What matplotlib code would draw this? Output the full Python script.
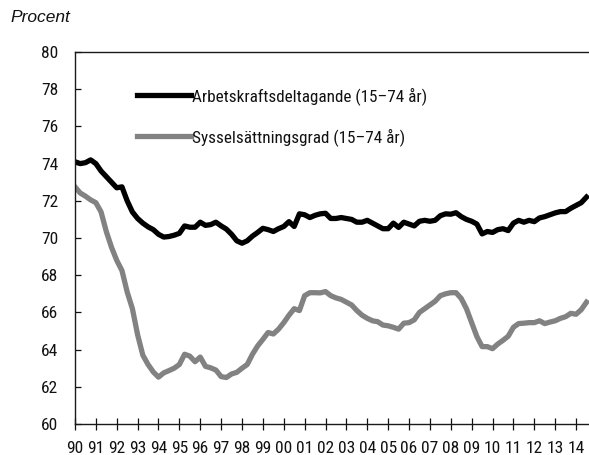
import matplotlib
matplotlib.use("Agg")
import numpy as np
from matplotlib import pyplot as plt

# quarterly values, 1990 Q1 .. 2014 Q3
start_year = 1990
arbetskraft = [
	74.1, 74.0, 74.05, 74.2,     # 1990
	74.0, 73.6, 73.3, 73.0,      # 1991
	72.7, 72.75, 72.0, 71.4,     # 1992
	71.05, 70.8, 70.6, 70.45,    # 1993
	70.2, 70.05, 70.08, 70.15,   # 1994
	70.25, 70.65, 70.58, 70.58,  # 1995
	70.85, 70.68, 70.72, 70.85,  # 1996
	70.65, 70.48, 70.2, 69.85,   # 1997
	69.72, 69.85, 70.1, 70.3,    # 1998
	70.52, 70.45, 70.35, 70.5,   # 1999
	70.62, 70.88, 70.62, 71.3,   # 2000
	71.25, 71.1, 71.22, 71.3,    # 2001
	71.33, 71.05, 71.05, 71.1,   # 2002
	71.05, 71.0, 70.85, 70.85,   # 2003
	70.95, 70.8, 70.65, 70.5,    # 2004
	70.5, 70.8, 70.57, 70.85,    # 2005
	70.75, 70.65, 70.9, 70.95,   # 2006
	70.9, 70.95, 71.2, 71.3,     # 2007
	71.28, 71.36, 71.15, 71.0,   # 2008
	70.9, 70.75, 70.22, 70.35,   # 2009
	70.3, 70.45, 70.5, 70.4,     # 2010
	70.8, 70.95, 70.85, 70.95,   # 2011
	70.88, 71.08, 71.15, 71.25,  # 2012
	71.35, 71.42, 71.42, 71.6,   # 2013
	71.75, 71.9, 72.2,           # 2014
]
sysselsattning = [
	72.75, 72.42, 72.25, 72.05,  # 1990
	71.9, 71.4, 70.35, 69.5,     # 1991
	68.8, 68.25, 67.1, 66.2,     # 1992
	64.8, 63.7, 63.2, 62.8,      # 1993
	62.52, 62.75, 62.87, 63.0,   # 1994
	63.2, 63.75, 63.65, 63.35,   # 1995
	63.6, 63.1, 63.02, 62.9,     # 1996
	62.55, 62.5, 62.69, 62.78,   # 1997
	63.0, 63.2, 63.75, 64.2,     # 1998
	64.55, 64.92, 64.84, 65.1,   # 1999
	65.45, 65.85, 66.2, 66.1,    # 2000
	66.9, 67.06, 67.06, 67.05,   # 2001
	67.12, 66.9, 66.78, 66.7,    # 2002
	66.55, 66.4, 66.1, 65.85,    # 2003
	65.68, 65.55, 65.5, 65.32,   # 2004
	65.28, 65.2, 65.1, 65.42,    # 2005
	65.45, 65.6, 66.0, 66.2,     # 2006
	66.4, 66.6, 66.9, 67.0,      # 2007
	67.06, 67.06, 66.75, 66.2,   # 2008
	65.45, 64.7, 64.16, 64.16,   # 2009
	64.05, 64.3, 64.5, 64.72,    # 2010
	65.2, 65.4, 65.42, 65.45,    # 2011
	65.45, 65.55, 65.4, 65.48,   # 2012
	65.55, 65.68, 65.77, 65.95,  # 2013
	65.9, 66.15, 66.55,          # 2014
]
labels = ["Arbetskraftsdeltagande (15\u201374 år)", "Sysselsättningsgrad (15\u201374 år)"]
years = list(range(1990, 2015))
year_labels = ["%02d" % (y % 100) for y in years]

t = start_year + np.arange(len(arbetskraft)) / 4.0

plt.rcParams['font.family'] = ['Roboto Condensed', 'DejaVu Sans']

fig = plt.figure(figsize=(5.89, 4.55), dpi=100)
ax = fig.add_axes([0.1273, 0.0681, 0.8727, 0.8176])

ax.plot(t, arbetskraft, color='black', lw=3.8, label=labels[0], solid_joinstyle='round')
ax.plot(t, sysselsattning, color='#828282', lw=3.8, label=labels[1], solid_joinstyle='round')

ax.set_xlim(1990, 2014.62)
ax.set_ylim(60, 80)
ax.set_yticks(range(60, 81, 2))
ax.set_xticks(years)
ax.set_xticklabels(year_labels)

for s in ['left', 'bottom', 'top']:
	ax.spines[s].set_color('#1a1a1a')
	ax.spines[s].set_linewidth(1.0)
ax.spines['right'].set_visible(False)

ax.tick_params(axis='x', direction='inout', length=9, width=0.9, pad=8, labelsize=12.5, colors='#111111')
ax.tick_params(axis='y', direction='in', length=4.5, width=0.9, pad=12, labelsize=12.5, colors='#111111')

ax.legend(loc='upper left', bbox_to_anchor=(0.12, 0.905), frameon=False, fontsize=12.3,
	handlelength=3.2, handletextpad=0.05, labelspacing=1.35, borderpad=0, borderaxespad=0,
	labelcolor='#111111')

fig.text(0.018, 0.962, "Procent", fontsize=12.5, style='italic', family='Liberation Sans', va='center', color='#111111')

fig.savefig("out.png", dpi=100)
